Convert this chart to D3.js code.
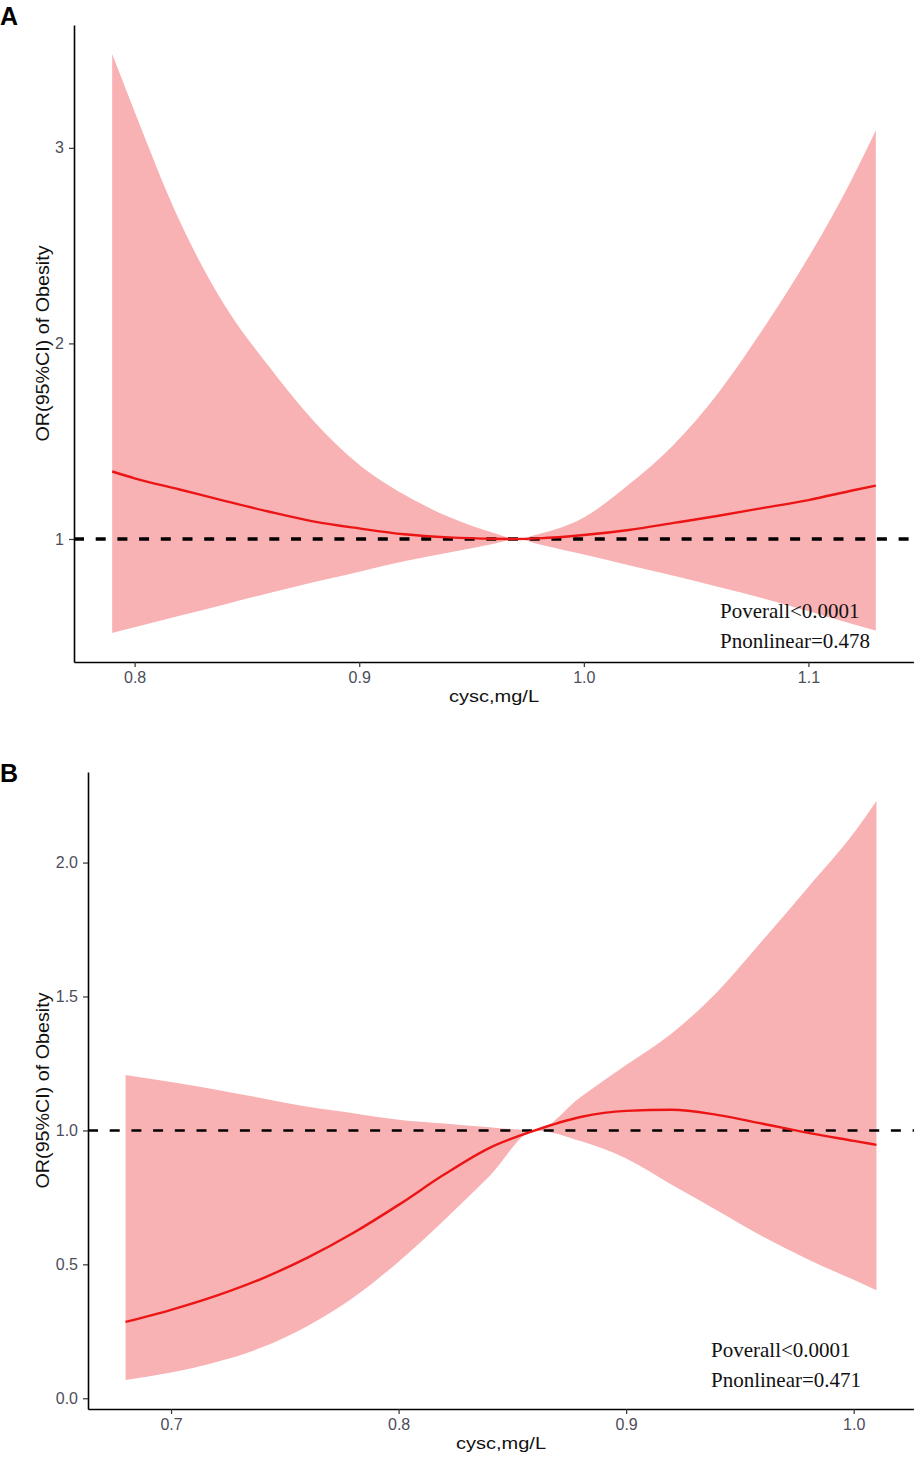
<!DOCTYPE html>
<html>
<head>
<meta charset="utf-8">
<script src="https://cdn.jsdelivr.net/npm/d3@7"></script>
<style>
  body { margin: 0; background: #fff; }
  svg { display: block; }
</style>
</head>
<body>
<div id="chart"></div>
<script>
// Panel A: cysc vs OR of obesity (restricted cubic spline, 95% CI)
const cyscA  = [0.79, 0.80, 0.82, 0.84, 0.86, 0.88, 0.90, 0.92, 0.94, 0.96, 0.97, 0.98, 1.00, 1.02, 1.04, 1.06, 1.08, 1.10, 1.12, 1.13];
const orA    = [1.345, 1.31, 1.253, 1.195, 1.139, 1.089, 1.054, 1.024, 1.008, 1.001, 1.0, 1.003, 1.02, 1.046, 1.082, 1.119, 1.159, 1.199, 1.249, 1.273];
const lowerA = [0.519, 0.548, 0.607, 0.665, 0.724, 0.780, 0.833, 0.886, 0.931, 0.976, 1.0, 0.973, 0.92, 0.866, 0.812, 0.754, 0.696, 0.63, 0.564, 0.532];
const upperA = [3.48, 3.185, 2.627, 2.196, 1.879, 1.60, 1.38, 1.227, 1.112, 1.03, 1.0, 1.025, 1.11, 1.278, 1.482, 1.749, 2.077, 2.44, 2.855, 3.09];
const xTicksA = [0.8, 0.9, 1.0, 1.1];
const yTicksA = [1, 2, 3];
const noteA = ["Poverall<0.0001", "Pnonlinear=0.478"];

// Panel B
const cyscB  = [0.68, 0.70, 0.72, 0.74, 0.76, 0.78, 0.80, 0.82, 0.84, 0.86, 0.88, 0.90, 0.92, 0.94, 0.96, 0.98, 1.00, 1.01];
const orB    = [0.285, 0.330, 0.383, 0.447, 0.525, 0.617, 0.722, 0.835, 0.935, 1.0, 1.05, 1.073, 1.077, 1.058, 1.025, 0.991, 0.961, 0.946];
const lowerB = [0.068, 0.096, 0.135, 0.19, 0.27, 0.375, 0.51, 0.665, 0.83, 1.0, 0.96, 0.895, 0.797, 0.701, 0.604, 0.518, 0.442, 0.403];
const upperB = [1.207, 1.181, 1.152, 1.12, 1.088, 1.064, 1.04, 1.026, 1.012, 1.0, 1.125, 1.244, 1.362, 1.517, 1.71, 1.908, 2.11, 2.23];
const xTicksB = [0.7, 0.8, 0.9, 1.0];
const yTicksB = [0.0, 0.5, 1.0, 1.5, 2.0];
const noteB = ["Poverall<0.0001", "Pnonlinear=0.471"];

const xTitle = "cysc,mg/L";
const yTitle = "OR(95%CI) of Obesity";

const W = 914, H = 1469;
const sans = "'Liberation Sans', Arial, sans-serif";
const serif = "'Liberation Serif', 'Times New Roman', serif";

const svg = d3.select("#chart").append("svg")
    .attr("width", W)
    .attr("height", H);

// ggplot-like 5% expansion of the data range
function expand(ext) {
    const pad = (ext[1] - ext[0]) * 0.05;
    return [ext[0] - pad, ext[1] + pad];
}

function drawPanel(cfg) {
    const rows = cfg.x.map((c, i) => ({ c: c, or: cfg.or[i], lo: cfg.lo[i], hi: cfg.hi[i] }));

    const x = d3.scaleLinear()
        .domain(expand(d3.extent(cfg.x)))
        .range([cfg.left, cfg.right]);

    const y = d3.scaleLinear()
        .domain(expand([d3.min(cfg.lo), d3.max(cfg.hi)]))
        .range([cfg.bottom, cfg.top]);

    const g = svg.append("g");

    // confidence band
    g.append("path")
        .datum(rows)
        .attr("fill", "#f8b2b4")
        .attr("d", d3.area()
            .curve(d3.curveMonotoneX)
            .x(d => x(d.c))
            .y0(d => y(d.lo))
            .y1(d => y(d.hi)));

    // reference line at OR = 1
    g.append("line")
        .attr("x1", cfg.left)
        .attr("x2", cfg.right)
        .attr("y1", y(1))
        .attr("y2", y(1))
        .attr("stroke", "#000")
        .attr("stroke-width", cfg.dashWidth)
        .attr("stroke-dasharray", "10,11.7");

    // fitted curve
    g.append("path")
        .datum(rows)
        .attr("fill", "none")
        .attr("stroke", "#ec1515")
        .attr("stroke-width", 2.4)
        .attr("d", d3.line()
            .curve(d3.curveMonotoneX)
            .x(d => x(d.c))
            .y(d => y(d.or)));

    // axes
    const xAxis = g.append("g")
        .attr("transform", `translate(0,${cfg.bottom})`)
        .call(d3.axisBottom(x)
            .tickValues(cfg.xTicks)
            .tickFormat(d3.format(".1f"))
            .tickSize(5)
            .tickSizeOuter(0)
            .tickPadding(5));

    const yAxis = g.append("g")
        .attr("transform", `translate(${cfg.left},0)`)
        .call(d3.axisLeft(y)
            .tickValues(cfg.yTicks)
            .tickFormat(d3.format(cfg.yFormat))
            .tickSize(5)
            .tickSizeOuter(0)
            .tickPadding(5));

    [xAxis, yAxis].forEach(a => {
        a.select(".domain").attr("stroke", "#000").attr("stroke-width", 1.6);
        a.selectAll(".tick line").attr("stroke", "#333").attr("stroke-width", 1.2);
        a.selectAll(".tick text")
            .attr("fill", "#4d4d5a")
            .attr("font-size", "16px")
            .attr("font-family", sans);
    });

    // axis titles
    g.append("text")
        .attr("x", (cfg.left + cfg.right) / 2)
        .attr("y", cfg.bottom + 40)
        .attr("text-anchor", "middle")
        .attr("font-size", "16px")
        .attr("font-family", sans)
        .attr("fill", "#111")
        .attr("textLength", 90)
        .attr("lengthAdjust", "spacingAndGlyphs")
        .text(xTitle);

    g.append("text")
        .attr("transform", `translate(49,${(cfg.top + cfg.bottom) / 2}) rotate(-90)`)
        .attr("text-anchor", "middle")
        .attr("font-size", "18px")
        .attr("font-family", sans)
        .attr("fill", "#111")
        .attr("textLength", 196)
        .attr("lengthAdjust", "spacingAndGlyphs")
        .text(yTitle);

    // p-values
    g.selectAll(".note")
        .data(cfg.note)
        .enter()
        .append("text")
        .attr("class", "note")
        .attr("x", cfg.noteX)
        .attr("y", (d, i) => cfg.noteY + i * 30)
        .attr("font-size", "21px")
        .attr("font-family", serif)
        .attr("fill", "#111")
        .text(d => d);

    // panel letter
    svg.append("text")
        .attr("x", 0)
        .attr("y", cfg.labelY)
        .attr("font-size", "25px")
        .attr("font-weight", "bold")
        .attr("font-family", sans)
        .attr("fill", "#000")
        .text(cfg.label);
}

drawPanel({
    label: "A", labelY: 25,
    x: cyscA, or: orA, lo: lowerA, hi: upperA,
    xTicks: xTicksA, yTicks: yTicksA, yFormat: "d",
    left: 74, right: 914, top: 25, bottom: 662,
    dashWidth: 3.5,
    note: noteA, noteX: 720, noteY: 618
});

drawPanel({
    label: "B", labelY: 782,
    x: cyscB, or: orB, lo: lowerB, hi: upperB,
    xTicks: xTicksB, yTicks: yTicksB, yFormat: ".1f",
    left: 88, right: 914, top: 772, bottom: 1409,
    dashWidth: 2.5,
    note: noteB, noteX: 711, noteY: 1357
});
</script>
</body>
</html>
